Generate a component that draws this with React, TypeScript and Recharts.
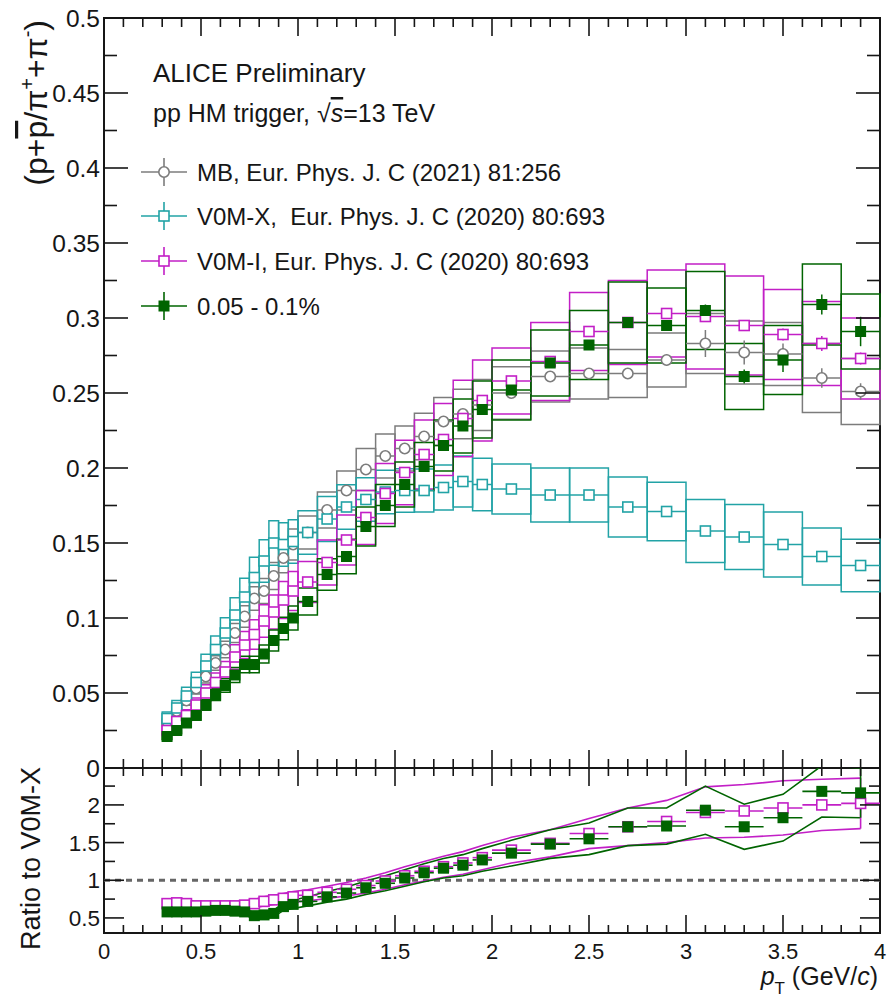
import React from 'react'
import {
  ComposedChart,
  Scatter,
  Line,
  XAxis,
  YAxis,
  ErrorBar,
  ReferenceArea,
  ReferenceLine,
} from 'recharts'

const FONT = '"Liberation Sans", Arial, Helvetica, sans-serif'

const GREY = '#7c7c7c'
const CYAN = '#22a3a6'
const MAGENTA = '#c21fc6'
const GREEN = '#006400'
const INK = '#161616'

// pT bin edges (GeV/c)
const ptEdges = [
  0.3, 0.35, 0.4, 0.45, 0.5, 0.55, 0.6, 0.65, 0.7, 0.75, 0.8, 0.85, 0.9, 0.95, 1.0,
  1.1, 1.2, 1.3, 1.4, 1.5, 1.6, 1.7, 1.8, 1.9, 2.0,
  2.2, 2.4, 2.6, 2.8, 3.0, 3.2, 3.4, 3.6, 3.8, 4.0,
]

// MB, EPJC 81:256
const mbVal = [
  0.031, 0.038, 0.045, 0.053, 0.061, 0.07, 0.079, 0.09, 0.101, 0.113, 0.118, 0.128, 0.14, 0.149,
  0.157, 0.172, 0.185, 0.199, 0.208, 0.213, 0.221, 0.231, 0.236, 0.242,
  0.25, 0.261, 0.263, 0.263, 0.272, 0.283, 0.277, 0.276, 0.26, 0.251,
]
const mbStat = [
  0.0005, 0.0005, 0.0005, 0.0005, 0.0005, 0.0005, 0.0005, 0.0005, 0.0005, 0.0005, 0.0005, 0.0005, 0.0005, 0.0005,
  0.0006, 0.0006, 0.0006, 0.0006, 0.0006, 0.0006, 0.0006, 0.0006, 0.0008, 0.001,
  0.0015, 0.002, 0.002, 0.003, 0.004, 0.009, 0.008, 0.007, 0.0065, 0.0055,
]
const mbSys = [
  0.0022, 0.0027, 0.0032, 0.0037, 0.0043, 0.0049, 0.0055, 0.0063, 0.0071, 0.0079, 0.0083, 0.009, 0.0098, 0.0104,
  0.011, 0.012, 0.013, 0.014, 0.0146, 0.015, 0.0155, 0.016, 0.0165, 0.017,
  0.0175, 0.017, 0.017, 0.016, 0.018, 0.02, 0.021, 0.021, 0.023, 0.022,
]

// V0M-X, EPJC 80:693
const v0mxVal = [
  0.033, 0.04, 0.048, 0.057, 0.068, 0.079, 0.09, 0.102, 0.114, 0.127, 0.138, 0.15, 0.149, 0.151,
  0.157, 0.166, 0.174, 0.179, 0.184, 0.185, 0.185, 0.187, 0.191, 0.189,
  0.186, 0.182, 0.182, 0.174, 0.171, 0.158, 0.154, 0.149, 0.141, 0.135,
]
const v0mxStat = [
  0.0004, 0.0004, 0.0004, 0.0004, 0.0004, 0.0004, 0.0004, 0.0004, 0.0004, 0.0004, 0.0004, 0.0004, 0.0004, 0.0004,
  0.0004, 0.0004, 0.0004, 0.0004, 0.0004, 0.0004, 0.0004, 0.0005, 0.0005, 0.0006,
  0.001, 0.001, 0.0012, 0.0015, 0.0015, 0.002, 0.002, 0.002, 0.0025, 0.003,
]
const v0mxSys = [
  0.0044, 0.005, 0.0058, 0.0068, 0.0078, 0.009, 0.0102, 0.0115, 0.0125, 0.0135, 0.0142, 0.0148, 0.0145, 0.0145,
  0.0145, 0.015, 0.0148, 0.0145, 0.0145, 0.0145, 0.0143, 0.015, 0.017, 0.0175,
  0.0167, 0.018, 0.018, 0.02, 0.0195, 0.021, 0.0217, 0.0216, 0.019, 0.0175,
]

// V0M-I, EPJC 80:693
const v0miVal = [
  0.025, 0.031, 0.035, 0.042, 0.05, 0.057, 0.064, 0.074, 0.082, 0.089, 0.098, 0.104, 0.112, 0.118,
  0.124, 0.137, 0.152, 0.167, 0.183, 0.197, 0.209, 0.219, 0.233, 0.245,
  0.258, 0.271, 0.291, 0.297, 0.303, 0.301, 0.295, 0.289, 0.283, 0.273,
]
const v0miStat = [
  0.0004, 0.0004, 0.0004, 0.0004, 0.0004, 0.0004, 0.0004, 0.0004, 0.0004, 0.0004, 0.0004, 0.0004, 0.0004, 0.0004,
  0.0004, 0.0004, 0.0004, 0.0004, 0.0004, 0.0004, 0.0005, 0.0005, 0.0006, 0.0008,
  0.0015, 0.002, 0.002, 0.0025, 0.003, 0.003, 0.0035, 0.004, 0.005, 0.004,
]
const v0miSys = [
  0.0028, 0.0034, 0.0039, 0.0046, 0.0055, 0.0063, 0.007, 0.0081, 0.009, 0.0098, 0.0108, 0.0114, 0.0123, 0.013,
  0.0136, 0.015, 0.0167, 0.018, 0.02, 0.0215, 0.023, 0.024, 0.0255, 0.027,
  0.022, 0.026, 0.026, 0.028, 0.029, 0.035, 0.033, 0.03, 0.028, 0.027,
]

// HM 0.05 - 0.1%
const hmVal = [
  0.021, 0.025, 0.03, 0.035, 0.042, 0.049, 0.055, 0.062, 0.069, 0.069, 0.076, 0.085, 0.093, 0.1,
  0.111, 0.129, 0.141, 0.161, 0.175, 0.189, 0.201, 0.215, 0.228, 0.239,
  0.252, 0.27, 0.282, 0.297, 0.295, 0.305, 0.261, 0.272, 0.309, 0.291,
]
const hmStat = [
  0.0004, 0.0004, 0.0004, 0.0004, 0.0004, 0.0004, 0.0004, 0.0004, 0.0004, 0.0004, 0.0004, 0.0004, 0.0004, 0.0004,
  0.0006, 0.0006, 0.0006, 0.0006, 0.0006, 0.0006, 0.0006, 0.0006, 0.0008, 0.001,
  0.002, 0.002, 0.002, 0.003, 0.003, 0.004, 0.0047, 0.008, 0.0067, 0.0098,
]
const hmSys = [
  0.002, 0.0022, 0.0026, 0.003, 0.0035, 0.004, 0.0045, 0.005, 0.0055, 0.0055, 0.006, 0.007, 0.0075, 0.008,
  0.009, 0.0105, 0.0115, 0.013, 0.014, 0.015, 0.016, 0.017, 0.018, 0.019,
  0.02, 0.022, 0.023, 0.027, 0.025, 0.026, 0.022, 0.023, 0.027, 0.025,
]

// ratios to V0M-X
const hmRatio = [
  0.58, 0.58, 0.58, 0.58, 0.59, 0.6, 0.6, 0.59, 0.58, 0.53, 0.54, 0.56, 0.65, 0.68,
  0.72, 0.78, 0.83, 0.9, 0.96, 1.03, 1.1, 1.16, 1.2, 1.27,
  1.36, 1.48, 1.55, 1.71, 1.72, 1.93, 1.71, 1.83, 2.18, 2.16,
]
const hmRatioSys = [
  0.04, 0.04, 0.04, 0.04, 0.04, 0.04, 0.04, 0.04, 0.04, 0.04, 0.04, 0.045, 0.05, 0.055,
  0.06, 0.07, 0.08, 0.09, 0.1, 0.11, 0.12, 0.13, 0.14, 0.15,
  0.17, 0.19, 0.21, 0.25, 0.24, 0.32, 0.3, 0.31, 0.34, 0.33,
]
const v0miRatio = [
  0.69, 0.7, 0.69, 0.66, 0.66, 0.66, 0.66, 0.66, 0.67, 0.69, 0.72, 0.74, 0.76, 0.78,
  0.8, 0.84, 0.88, 0.93, 0.99, 1.06, 1.12, 1.18, 1.23, 1.3,
  1.4, 1.49, 1.62, 1.71, 1.78, 1.9, 1.92, 1.96, 2.0, 2.02,
]
const v0miRatioSys = [
  0.05, 0.05, 0.05, 0.05, 0.05, 0.05, 0.05, 0.05, 0.05, 0.055, 0.06, 0.06, 0.065, 0.07,
  0.075, 0.08, 0.09, 0.1, 0.11, 0.12, 0.13, 0.14, 0.15, 0.16,
  0.17, 0.18, 0.2, 0.25, 0.28, 0.34, 0.35, 0.36, 0.34, 0.335,
]

const legendLabels = [
  'MB, Eur. Phys. J. C (2021) 81:256',
  'V0M-X,\u00a0 Eur. Phys. J. C (2020) 80:693',
  'V0M-I, Eur. Phys. J. C (2020) 80:693',
  '0.05 - 0.1%',
]

const xTicks = Array.from({ length: 41 }, (_, i) => i / 10)
const yTicksTop = Array.from({ length: 21 }, (_, i) => Math.round(i * 25) / 1000)
const yTicksRatio = [0.5, 0.75, 1, 1.25, 1.5, 1.75, 2, 2.25]

const ptCenters = ptEdges.slice(0, -1).map((lo, i) => Math.round(((lo + ptEdges[i + 1]) / 2) * 1000) / 1000)
const ptHalf = ptEdges.slice(0, -1).map((lo, i) => (ptEdges[i + 1] - lo) / 2)

type Row = { pt: number; v: number; stat: number; ex: number; lo: number; hi: number; x1: number; x2: number }

function buildRows(vals: number[], stat: number[] | null, sys: number[]): Row[] {
  return vals.map((v, i) => ({
    pt: ptCenters[i],
    v,
    stat: stat ? stat[i] : 0,
    ex: ptHalf[i],
    lo: v - sys[i],
    hi: v + sys[i],
    x1: ptEdges[i],
    x2: ptEdges[i + 1],
  }))
}

type Kind = 'circle' | 'open' | 'full'

const spectra: { key: string; color: string; kind: Kind; rows: Row[] }[] = [
  { key: 'mb', color: GREY, kind: 'circle', rows: buildRows(mbVal, mbStat, mbSys) },
  { key: 'v0mx', color: CYAN, kind: 'open', rows: buildRows(v0mxVal, v0mxStat, v0mxSys) },
  { key: 'v0mi', color: MAGENTA, kind: 'open', rows: buildRows(v0miVal, v0miStat, v0miSys) },
  { key: 'hm', color: GREEN, kind: 'full', rows: buildRows(hmVal, hmStat, hmSys) },
]

const ratios = [
  { key: 'r-v0mi', color: MAGENTA, kind: 'open' as Kind, rows: buildRows(v0miRatio, null, v0miRatioSys) },
  { key: 'r-hm', color: GREEN, kind: 'full' as Kind, rows: buildRows(hmRatio, null, hmRatioSys) },
]

function drawMarker(kind: Kind, color: string, cx: number, cy: number) {
  if (kind === 'circle') {
    return <circle cx={cx} cy={cy} r={5.2} fill="#fff" stroke={color} strokeWidth={1.6} />
  }
  if (kind === 'open') {
    return <rect x={cx - 5} y={cy - 5} width={10} height={10} fill="#fff" stroke={color} strokeWidth={1.6} />
  }
  return <rect x={cx - 5.5} y={cy - 5.5} width={11} height={11} fill={color} />
}

const markerShape = (kind: Kind, color: string) => (p: any) => {
  if (p.cx == null || p.cy == null) return <g />
  return drawMarker(kind, color, p.cx, p.cy)
}

const fmt = (v: number) => String(Math.round(v * 1000) / 1000)

// ROOT style ticks: inward, repeated on the opposite side of the frame
const xTick = (plotH: number, major: number, minor: number, labels: boolean) => (p: any) => {
  const v = p.payload.value as number
  const isMajor = Math.abs(v * 2 - Math.round(v * 2)) < 1e-6
  const len = isMajor ? major : minor
  return (
    <g>
      <line x1={p.x} x2={p.x} y1={p.y} y2={p.y - len} stroke={INK} strokeWidth={1.6} />
      <line x1={p.x} x2={p.x} y1={p.y - plotH} y2={p.y - plotH + len} stroke={INK} strokeWidth={1.6} />
      {labels && isMajor && (
        <text x={p.x} y={p.y + 26} textAnchor="middle" fontSize={22} fontFamily={FONT} fill={INK}>
          {fmt(v)}
        </text>
      )}
    </g>
  )
}

const yTick = (plotW: number, step: number, major: number, minor: number, size: number) => (p: any) => {
  const v = p.payload.value as number
  const isMajor = Math.abs(v / step - Math.round(v / step)) < 1e-6
  const len = isMajor ? major : minor
  return (
    <g>
      <line x1={p.x} x2={p.x + len} y1={p.y} y2={p.y} stroke={INK} strokeWidth={1.6} />
      <line x1={p.x + plotW} x2={p.x + plotW - len} y1={p.y} y2={p.y} stroke={INK} strokeWidth={1.6} />
      {isMajor && (
        <text x={p.x - 4} y={p.y} dy="0.36em" textAnchor="end" fontSize={size} fontFamily={FONT} fill={INK}>
          {fmt(v)}
        </text>
      )}
    </g>
  )
}

const PLOT_W = 776

function SpectraPanel() {
  return (
    <ComposedChart width={890} height={800} margin={{ top: 18, right: 10, bottom: 31, left: 103 }}>
      <XAxis
        dataKey="pt"
        type="number"
        domain={[0, 4]}
        ticks={xTicks}
        interval={0}
        height={1}
        tickSize={0}
        tickMargin={0}
        tickLine={false}
        axisLine={false}
        tick={xTick(750, 18, 9, false)}
        allowDataOverflow
      />
      <YAxis
        type="number"
        domain={[0, 0.5]}
        ticks={yTicksTop}
        interval={0}
        width={1}
        tickSize={0}
        tickMargin={0}
        tickLine={false}
        axisLine={false}
        tick={yTick(PLOT_W, 0.05, 24, 13, 24.5)}
        allowDataOverflow
      />
      <ReferenceArea x1={0} x2={4} y1={0} y2={0.5} fill="none" stroke={INK} strokeWidth={2} ifOverflow="visible" />
      {spectra.map((s) =>
        s.rows.map((r, i) => (
          <ReferenceArea
            key={`${s.key}-box-${i}`}
            x1={r.x1}
            x2={r.x2}
            y1={r.lo}
            y2={r.hi}
            fill="none"
            stroke={s.color}
            strokeWidth={1.5}
            ifOverflow="visible"
          />
        ))
      )}
      {spectra.map((s) => (
        <Scatter
          key={s.key}
          data={s.rows}
          dataKey="v"
          isAnimationActive={false}
          shape={markerShape(s.kind, s.color)}
        >
          <ErrorBar dataKey="ex" direction="x" width={0} stroke={s.color} strokeWidth={1.5} />
          <ErrorBar dataKey="stat" direction="y" width={0} stroke={s.color} strokeWidth={1.5} />
        </Scatter>
      ))}
    </ComposedChart>
  )
}

function RatioPanel() {
  return (
    <ComposedChart width={890} height={238} margin={{ top: 8, right: 10, bottom: 64, left: 103 }}>
      <XAxis
        dataKey="pt"
        type="number"
        domain={[0, 4]}
        ticks={xTicks}
        interval={0}
        height={1}
        tickSize={0}
        tickMargin={0}
        tickLine={false}
        axisLine={false}
        tick={xTick(165, 18, 8, true)}
        allowDataOverflow
      />
      <YAxis
        type="number"
        domain={[0.3, 2.49]}
        ticks={yTicksRatio}
        interval={0}
        width={1}
        tickSize={0}
        tickMargin={0}
        tickLine={false}
        axisLine={false}
        tick={yTick(PLOT_W, 0.5, 20, 11, 22.5)}
        allowDataOverflow
      />
      <ReferenceArea x1={0} x2={4} y1={0.3} y2={2.49} fill="none" stroke={INK} strokeWidth={2} ifOverflow="visible" />
      <ReferenceLine y={1} stroke="#666" strokeWidth={3} strokeDasharray="6 5" />
      {ratios.map((s) => (
        <Line
          key={`${s.key}-hi`}
          data={s.rows}
          dataKey="hi"
          type="linear"
          dot={false}
          stroke={s.color}
          strokeWidth={1.6}
          isAnimationActive={false}
        />
      ))}
      {ratios.map((s) => (
        <Line
          key={`${s.key}-lo`}
          data={s.rows}
          dataKey="lo"
          type="linear"
          dot={false}
          stroke={s.color}
          strokeWidth={1.6}
          isAnimationActive={false}
        />
      ))}
      {ratios.map((s) =>
        [s.rows[0], s.rows[s.rows.length - 1]].map((r, i) => (
          <ReferenceLine
            key={`${s.key}-end-${i}`}
            segment={[
              { x: r.pt, y: r.lo },
              { x: r.pt, y: Math.min(r.hi, 2.49) },
            ]}
            stroke={s.color}
            strokeWidth={1.6}
            ifOverflow="visible"
          />
        ))
      )}
      {ratios.map((s) => (
        <Scatter
          key={s.key}
          data={s.rows}
          dataKey="v"
          isAnimationActive={false}
          shape={markerShape(s.kind, s.color)}
        >
          <ErrorBar dataKey="ex" direction="x" width={0} stroke={s.color} strokeWidth={1.6} />
        </Scatter>
      ))}
    </ComposedChart>
  )
}

function Annotations() {
  const rowsY = [172, 216, 261, 306]
  const kinds: [Kind, string][] = [
    ['circle', GREY],
    ['open', CYAN],
    ['open', MAGENTA],
    ['full', GREEN],
  ]
  return (
    <svg
      width={890}
      height={998}
      style={{ position: 'absolute', left: 0, top: 0, pointerEvents: 'none' }}
      fontFamily={FONT}
    >
      <text x={153} y={82} fontSize={26} fill={INK}>
        ALICE Preliminary
      </text>
      <text x={153} y={122} fontSize={25} fill={INK}>
        pp HM trigger, {'\u221a'}
        <tspan fontStyle="italic" textDecoration="overline">
          s
        </tspan>
        =13 TeV
      </text>
      {rowsY.map((y, i) => (
        <g key={legendLabels[i]}>
          <line x1={141} x2={187} y1={y} y2={y} stroke={kinds[i][1]} strokeWidth={1.6} />
          <line x1={164} x2={164} y1={y - 14} y2={y + 14} stroke={kinds[i][1]} strokeWidth={1.6} />
          {drawMarker(kinds[i][0], kinds[i][1], 164, y)}
          <text x={197} y={y} dy="0.36em" fontSize={24} fill={INK}>
            {legendLabels[i]}
          </text>
        </g>
      ))}
      <text transform="translate(47,20) rotate(-90)" textAnchor="end" fontSize={32} fill={INK}>
        (p+<tspan textDecoration="overline">p</tspan>/{'\u03c0'}
        <tspan dy={-13} fontSize={20}>+</tspan>
        <tspan dy={13}>+{'\u03c0'}</tspan>
        <tspan dy={-13} fontSize={20}>-</tspan>
        <tspan dy={13}>)</tspan>
      </text>
      <text transform="translate(40,767) rotate(-90)" textAnchor="end" fontSize={27} fill={INK}>
        Ratio to V0M-X
      </text>
      <text x={878} y={985} textAnchor="end" fontSize={25} fill={INK}>
        <tspan fontStyle="italic">p</tspan>
        <tspan dy={9} fontSize={17}>T</tspan>
        <tspan dy={-9}> (GeV/</tspan>
        <tspan fontStyle="italic">c</tspan>)
      </text>
    </svg>
  )
}

export default function App() {
  return (
    <div style={{ position: 'absolute', left: 0, top: 0, width: 890, height: 998, background: '#fff' }}>
      <div style={{ position: 'absolute', left: 0, top: 0 }}>
        <SpectraPanel />
      </div>
      <div style={{ position: 'absolute', left: 0, top: 760 }}>
        <RatioPanel />
      </div>
      <Annotations />
    </div>
  )
}
